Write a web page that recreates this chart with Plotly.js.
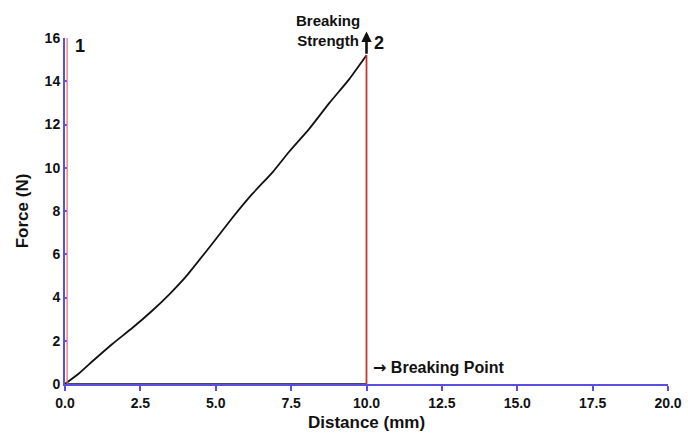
<!DOCTYPE html>
<html>
<head>
<meta charset="utf-8">
<script src="https://cdn.plot.ly/plotly-3.0.1.min.js"></script>
<style>html,body{margin:0;padding:0;background:#fff;}#chart{width:688px;height:444px;}</style>
</head>
<body>
<div id="chart"></div>
<script>
// Force-distance curve
const distance = [0, 0.47, 0.91, 1.57, 2.24, 2.9, 3.46, 4.06, 4.89, 5.56, 6.22, 6.89, 7.44, 8.1, 8.77, 9.43, 10.0];
const force    = [0, 0.5, 1.05, 1.85, 2.6, 3.4, 4.15, 5.05, 6.5, 7.7, 8.8, 9.8, 10.75, 11.8, 13.0, 14.1, 15.2];
const baseX = [0, 10];
const baseY = [0, 0];
const startX = [0.07, 0.07];
const startY = [0, 16];
const breakX = [10, 10];
const breakY = [0, 15.2];
const xTicks = [0, 2.5, 5, 7.5, 10, 12.5, 15, 17.5, 20];
const xTickText = ['0.0', '2.5', '5.0', '7.5', '10.0', '12.5', '15.0', '17.5', '20.0'];
const yTicks = [0, 2, 4, 6, 8, 10, 12, 14, 16];

const FONT = 'Liberation Sans, Arial, sans-serif';
const BLUE = '#5b4fe3';
const RED = '#c0392b';

const traces = [
  {x: baseX, y: baseY, mode: 'lines', line: {color: '#111', width: 1.5}, cliponaxis: false, hoverinfo: 'skip'},
  {x: distance, y: force, mode: 'lines', line: {color: '#111', width: 1.8, shape: 'spline', smoothing: 0.4}, cliponaxis: false},
  {x: startX, y: startY, mode: 'lines', line: {color: '#e0706a', width: 1.2}, cliponaxis: false},
  {x: breakX, y: breakY, mode: 'lines', line: {color: RED, width: 1.8}, cliponaxis: false}
];

const layout = {
  width: 688, height: 444,
  margin: {l: 65, r: 20, t: 38, b: 60},
  paper_bgcolor: '#fff', plot_bgcolor: '#fff',
  showlegend: false,
  font: {family: FONT, color: '#111'},
  xaxis: {
    range: [0, 20], tickvals: xTicks, ticktext: xTickText,
    showgrid: false, zeroline: false,
    showline: true, linecolor: BLUE, linewidth: 2,
    ticks: 'outside', ticklen: 5, tickwidth: 2, tickcolor: BLUE,
    tickfont: {family: FONT, size: 14, color: '#111', weight: 'bold'},
    title: {text: '<b>Distance (mm)</b>', font: {family: FONT, size: 17, color: '#111'}, standoff: 6},
    layer: 'below traces'
  },
  yaxis: {
    range: [0, 16], tickvals: yTicks,
    showgrid: false, zeroline: false,
    showline: true, linecolor: BLUE, linewidth: 2,
    ticks: 'inside', ticklen: 2, tickwidth: 2, tickcolor: BLUE,
    tickfont: {family: FONT, size: 14, color: '#111', weight: 'bold'},
    title: {text: '<b>Force (N)</b>', font: {family: FONT, size: 17, color: '#111'}, standoff: 12},
    layer: 'below traces'
  },
  annotations: [
    {x: 0.07, y: 16, xref: 'x', yref: 'y', text: '<b>1</b>', showarrow: false,
     xanchor: 'left', yanchor: 'top', xshift: 6, yshift: 4, font: {family: FONT, size: 18, color: '#111'}},
    {x: 10, y: 16.3, xref: 'x', yref: 'y', ax: 10, ay: 15.2, axref: 'x', ayref: 'y', text: '',
     showarrow: true, arrowhead: 2, arrowsize: 0.8, arrowwidth: 2.6, arrowcolor: '#111'},
    {x: 10, y: 15.55, xref: 'x', yref: 'y', text: '<b>Breaking<br>Strength</b>', showarrow: false,
     xanchor: 'right', yanchor: 'bottom', align: 'center', xshift: -5, yshift: -3,
     font: {family: FONT, size: 15, color: '#111'}},
    {x: 10, y: 16.0, xref: 'x', yref: 'y', text: '<b>2</b>', showarrow: false,
     xanchor: 'left', yanchor: 'middle', xshift: 5, yshift: -5, font: {family: FONT, size: 18, color: '#111'}},
    {x: 10, y: 0, xref: 'x', yref: 'y', text: '<b><span style="font-family:DejaVu Sans">→</span> Breaking Point</b>', showarrow: false,
     xanchor: 'left', yanchor: 'bottom', xshift: 4, yshift: 5, font: {family: FONT, size: 16, color: '#111'}}
  ]
};

Plotly.newPlot('chart', traces, layout, {displayModeBar: false, staticPlot: true});
</script>
</body>
</html>
